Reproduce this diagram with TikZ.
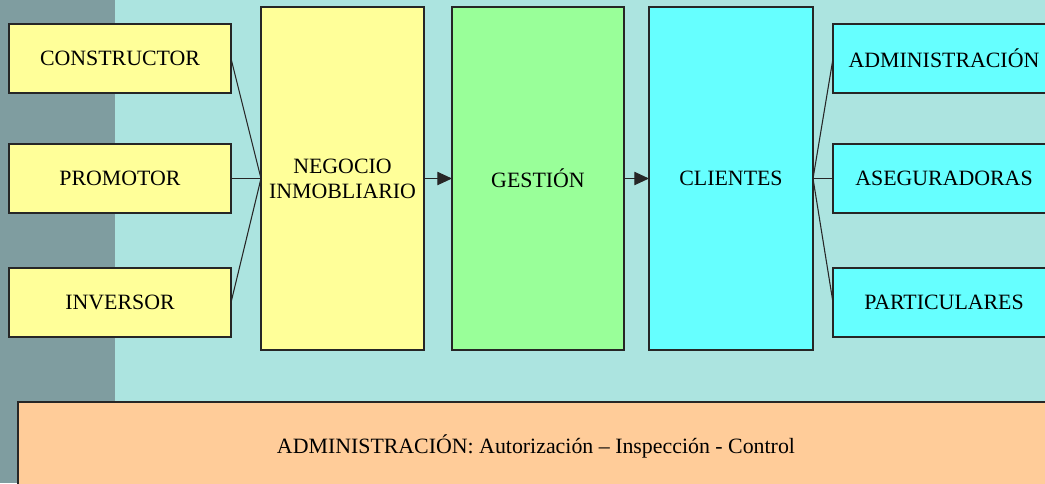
\documentclass[tikz,border=0pt]{standalone}
\usepackage{fontspec}
\setmainfont{Liberation Serif}
\usetikzlibrary{positioning,arrows.meta}

\definecolor{fondo}{RGB}{172,228,224}
\definecolor{franja}{RGB}{127,157,160}
\definecolor{amarillo}{RGB}{255,255,153}
\definecolor{verde}{RGB}{153,255,153}
\definecolor{celeste}{RGB}{102,255,255}
\definecolor{naranja}{RGB}{255,204,153}

\tikzset{
  caja/.style={rectangle, draw=black!85, line width=0.8pt, inner sep=0pt, outer sep=0pt,
    minimum width=166.5pt, minimum height=51.75pt},
  bloque/.style={rectangle, draw=black!85, line width=0.8pt, inner sep=0pt, outer sep=0pt,
    align=center, minimum height=257.25pt},
  enlace/.style={line width=0.8pt, black!85},
  flecha/.style={enlace, -{Triangle[length=11pt,width=10pt]}}
}

\begin{document}
\begin{tikzpicture}[x=0.75pt, y=-0.75pt, font=\fontsize{16.4}{18.75}\selectfont]
		\clip (0,0) rectangle (1045,483);
		\fill[fondo] (0,0) rectangle (1045,483);
		\fill[franja] (0,0) rectangle (115,483);

		\node (promotor) [caja, fill=amarillo] at (120,178.5) {PROMOTOR};
		\node (constructor) [caja, fill=amarillo, above=38.25pt of promotor] {CONSTRUCTOR};
		\node (inversor) [caja, fill=amarillo, below=41.25pt of promotor] {INVERSOR};

		\node (negocio) [bloque, fill=amarillo, minimum width=122.25pt, right=22.5pt of promotor] {NEGOCIO\\INMOBLIARIO};
		\node (gestion) [bloque, fill=verde, minimum width=129pt, right=21pt of negocio] {GESTIÓN};
		\node (clientes) [bloque, fill=celeste, minimum width=123pt, right=18.75pt of gestion] {CLIENTES};

		\node (aseguradoras) [caja, fill=celeste, right=15pt of clientes] {ASEGURADORAS};
		\node (administracion) [caja, fill=celeste, above=38.25pt of aseguradoras] {ADMINISTRACIÓN};
		\node (particulares) [caja, fill=celeste, below=41.25pt of aseguradoras] {PARTICULARES};

		\node (control) [rectangle, draw=black!85, line width=0.8pt, fill=naranja,
			minimum width=777pt, minimum height=66pt] at (536,446)
			{ADMINISTRACIÓN: Autorización – Inspección - Control};

		\draw[enlace] (constructor.east) -- (negocio.west);
		\draw[enlace] (promotor.east) -- (negocio.west);
		\draw[enlace] (inversor.east) -- (negocio.west);

		\draw[flecha] (negocio) -- (gestion);
		\draw[flecha] (gestion) -- (clientes);

		\draw[enlace] (clientes.east) -- (administracion.west);
		\draw[enlace] (clientes.east) -- (aseguradoras.west);
		\draw[enlace] (clientes.east) -- (particulares.west);

	\end{tikzpicture}
\end{document}
